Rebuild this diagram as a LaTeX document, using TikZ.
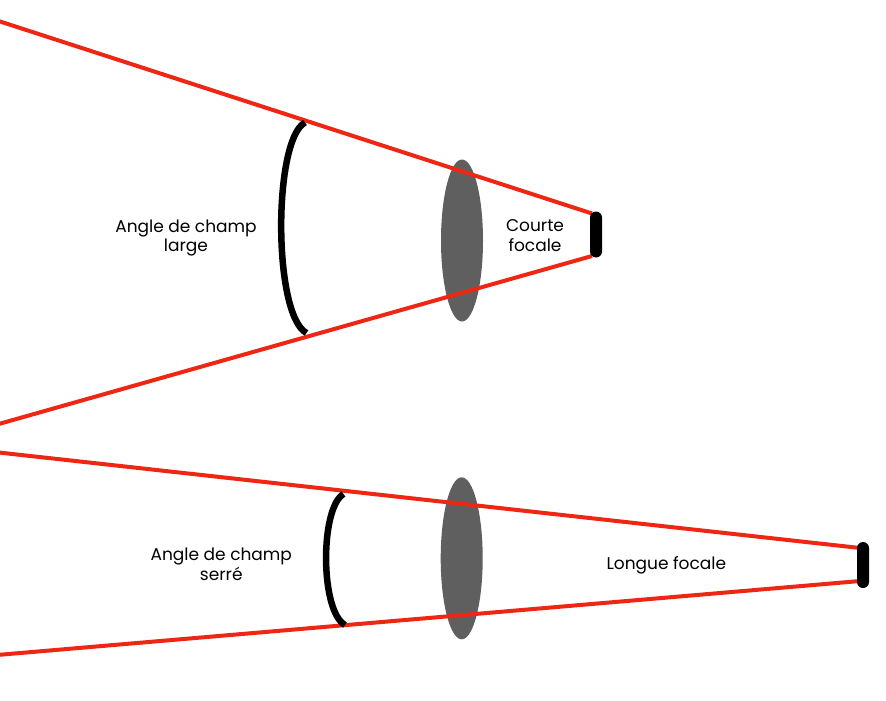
\documentclass[tikz,border=0pt]{standalone}
\usepackage{fontspec}
\setmainfont{Poppins}
\usetikzlibrary{shapes.geometric}
\definecolor{ray}{RGB}{238,38,20}
\definecolor{lensgray}{RGB}{95,95,95}
\tikzset{
  lens/.style={ellipse, fill=lensgray, draw=none, inner sep=0pt, minimum width=42pt, minimum height=162pt},
  sensor/.style={rectangle, fill=black, draw=none, rounded corners=6pt, inner sep=0pt, minimum width=12pt, minimum height=46pt},
  rayline/.style={draw=ray, line width=4pt},
  fov/.style={draw=black, line width=6.5pt},
  lbl/.style={align=center, font=\fontsize{17pt}{19.3pt}\selectfont, inner sep=0pt, anchor=base}
}
\begin{document}
\begin{tikzpicture}[x=1pt,y=-1pt]
\useasboundingbox (0,0) rectangle (886,701);
% upper system
\node[lens] (lensA) at (462,240.5) {};
\coordinate (aTopL) at (-3,20.5);
\coordinate (aBotL) at (-3,424.5);
\coordinate (aTopR) at (592,213.5);
\coordinate (aBotR) at (592,256);
\draw[rayline] (aTopL) -- (aTopR);
\draw[rayline] (aBotL) -- (aBotR);
\coordinate (arcAt) at (305,122.5);
\coordinate (arcAb) at (306.5,333);
\draw[fov] (arcAt) .. controls (273,140) and (273,315) .. (arcAb);
\node[sensor] (sensA) at (596,234.5) {};
\node[lbl] (txtA) at (186,251.7) {Angle de champ\\large};
\node[lbl] (txtB) at (535,251) {Courte\\focale};
% lower system
\node[lens] (lensB) at (461.7,558.3) {};
\coordinate (bTopL) at (-3,452.3);
\coordinate (bBotL) at (-3,655);
\coordinate (bTopR) at (860,548);
\coordinate (bBotR) at (860,581);
\draw[rayline] (bTopL) -- (bTopR);
\draw[rayline] (bBotL) -- (bBotR);
\coordinate (arcBt) at (343.5,494);
\coordinate (arcBb) at (345,625);
\draw[fov] (arcBt) .. controls (320,508) and (320,611) .. (arcBb);
\node[sensor] (sensB) at (863,565) {};
\node[lbl] (txtC) at (221.3,580) {Angle de champ\\serré};
\node[lbl] (txtD) at (666.3,569) {Longue focale};
\end{tikzpicture}
\end{document}
